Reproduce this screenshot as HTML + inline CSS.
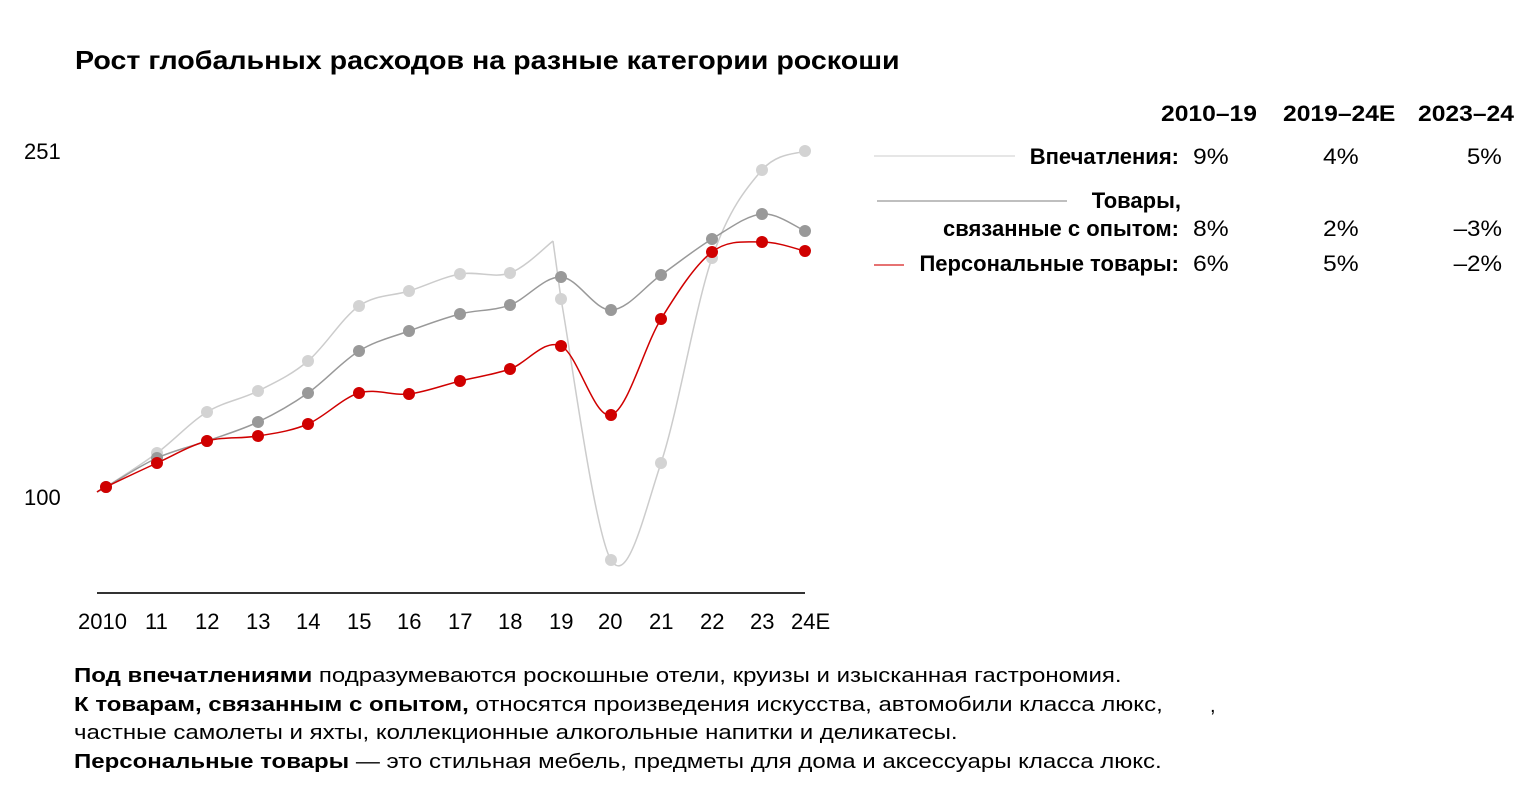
<!DOCTYPE html>
<html><head><meta charset="utf-8"><style>
body{margin:0;width:1525px;height:796px;background:#fff;font-family:"Liberation Sans",sans-serif;position:relative;overflow:hidden}
.t{position:absolute;white-space:nowrap;color:#000}
.r{transform:scaleX(1.1);transform-origin:right center}
.l{transform:scaleX(1.12);transform-origin:left center}
</style></head><body>
<div class="t" style="left:75px;top:45px;font-size:26px;font-weight:bold;transform:scaleX(1.1);transform-origin:left center">Рост глобальных расходов на разные категории роскоши</div>
<div class="t" style="left:24px;top:139px;font-size:22px">251</div>
<div class="t" style="left:24px;top:485px;font-size:22px">100</div>
<svg width="1525" height="796" style="position:absolute;left:0;top:0" id="s">
<line x1="97" y1="593" x2="805" y2="593" stroke="#333" stroke-width="2"/>
<line x1="874" y1="156" x2="1015" y2="156" stroke="#ddd" stroke-width="1.5"/>
<line x1="877" y1="201" x2="1067" y2="201" stroke="#aaa" stroke-width="1.5"/>
<line x1="874" y1="265" x2="904" y2="265" stroke="#d44" stroke-width="1.5"/>
</svg>
<div style="position:absolute;left:0;top:609px;font-size:22px">
<span class="t" style="left:78px">2010</span><span class="t" style="left:145px">11</span><span class="t" style="left:195px">12</span><span class="t" style="left:246px">13</span><span class="t" style="left:296px">14</span><span class="t" style="left:347px">15</span><span class="t" style="left:397px">16</span><span class="t" style="left:448px">17</span><span class="t" style="left:498px">18</span><span class="t" style="left:549px">19</span><span class="t" style="left:598px">20</span><span class="t" style="left:649px">21</span><span class="t" style="left:700px">22</span><span class="t" style="left:750px">23</span><span class="t" style="left:791px">24E</span></div>
<div style="font-size:22px">
<span class="t l" style="left:1161px;top:101px;font-weight:bold">2010–19</span>
<span class="t l" style="left:1283px;top:101px;font-weight:bold">2019–24E</span>
<span class="t l" style="left:1418px;top:101px;font-weight:bold">2023–24</span>
<span class="t" style="right:346px;top:144px;font-weight:bold">Впечатления:</span>
<span class="t" style="right:344px;top:188px;font-weight:bold">Товары,</span>
<span class="t" style="right:346px;top:216px;font-weight:bold">связанные с опытом:</span>
<span class="t" style="right:346px;top:251px;font-weight:bold">Персональные товары:</span>
<span class="t l" style="left:1193px;top:144px">9%</span><span class="t l" style="left:1323px;top:144px">4%</span><span class="t r" style="right:23px;top:144px">5%</span>
<span class="t l" style="left:1193px;top:216px">8%</span><span class="t l" style="left:1323px;top:216px">2%</span><span class="t r" style="right:23px;top:216px">–3%</span>
<span class="t l" style="left:1193px;top:251px">6%</span><span class="t l" style="left:1323px;top:251px">5%</span><span class="t r" style="right:23px;top:251px">–2%</span>
</div>
<div style="position:absolute;left:74px;top:662px;font-size:20px;line-height:28.5px;white-space:nowrap;transform:scaleX(1.2);transform-origin:left top">
<b>Под впечатлениями</b> подразумеваются роскошные отели, круизы и изысканная гастрономия.<br>
<b>К товарам, связанным с опытом,</b> относятся произведения искусства, автомобили класса люкс,<br>
частные самолеты и яхты, коллекционные алкогольные напитки и деликатесы.<br>
<b>Персональные товары</b> — это стильная мебель, предметы для дома и аксессуары класса люкс.</div>
<div class="t" style="left:1210px;top:695px;font-size:20px">,</div>
<script>
const X=[106,157,207,258,308,359,409,460,510,561,611,661,712,762,805];
const L=[487,453,412,391,361,306,291,274,273,299,560,463,258,170,151];
const D=[487,458,441,422,393,351,331,314,305,277,310,275,239,214,231];
const R=[487,463,441,436,424,393,394,381,369,346,415,319,252,242,251];
function path(p){let d=`M${p[0][0]},${p[0][1]}`;for(let i=0;i<p.length-1;i++){const a=p[i-1]||p[i],b=p[i],c=p[i+1],e=p[i+2]||c;d+=` C${b[0]+(c[0]-a[0])/6},${b[1]+(c[1]-a[1])/6} ${c[0]-(e[0]-b[0])/6},${c[1]-(e[1]-b[1])/6} ${c[0]},${c[1]}`;}return d;}
const s=document.getElementById('s');let h='';
function ser(Y,col,lc,extra){let p=X.map((x,i)=>[x,Y[i]]);p.unshift([97,492]);
if(extra){
 const a=p.slice(0,10);a.push([553,241]);
 h+=`<path d="${path(a)}" fill="none" stroke="${lc}" stroke-width="1.5"/>`;
 h+=`<path d="M553,241 L561,299 ${path(p.slice(10)).replace('M','L')}" fill="none" stroke="${lc}" stroke-width="1.5"/>`;
}else h+=`<path d="${path(p)}" fill="none" stroke="${lc}" stroke-width="1.5"/>`;
X.forEach((x,i)=>h+=`<circle cx="${x}" cy="${Y[i]}" r="6" fill="${col}"/>`);}
ser(L,'#d3d3d3','#ccc',true);ser(D,'#999','#999');ser(R,'#d00000','#d00000');
s.insertAdjacentHTML('beforeend',h);
</script>
</body></html>
